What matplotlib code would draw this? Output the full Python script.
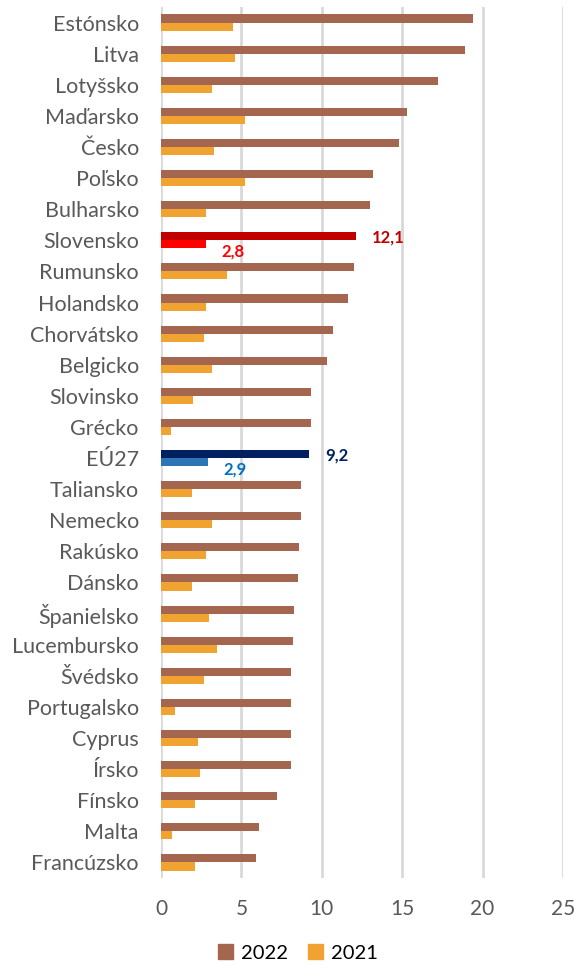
import matplotlib
matplotlib.use("Agg")
import matplotlib.pyplot as plt
import numpy as np

# data (inflation, %)
krajiny = ["Estónsko", "Litva", "Lotyšsko", "Maďarsko", "Česko", "Poľsko", "Bulharsko",
           "Slovensko", "Rumunsko", "Holandsko", "Chorvátsko", "Belgicko", "Slovinsko",
           "Grécko", "EÚ27", "Taliansko", "Nemecko", "Rakúsko", "Dánsko", "Španielsko",
           "Lucembursko", "Švédsko", "Portugalsko", "Cyprus", "Írsko", "Fínsko", "Malta",
           "Francúzsko"]
hodnoty_2022 = [19.4, 18.9, 17.2, 15.3, 14.8, 13.2, 13.0, 12.1, 12.0, 11.6, 10.7, 10.3, 9.3,
                9.3, 9.2, 8.7, 8.7, 8.6, 8.5, 8.3, 8.2, 8.1, 8.1, 8.1, 8.1, 7.2, 6.1, 5.9]
hodnoty_2021 = [4.5, 4.6, 3.2, 5.2, 3.3, 5.2, 2.8, 2.8, 4.1, 2.8, 2.7, 3.2, 2.0,
                0.6, 2.9, 1.9, 3.2, 2.8, 1.9, 3.0, 3.5, 2.7, 0.9, 2.3, 2.4, 2.1, 0.7, 2.1]
roky = ["2022", "2021"]
x_ticks = [0, 5, 10, 15, 20, 25]

c2022 = "#A5664F"
c2021 = "#F0A330"
zvyraznene = {"Slovensko": ("#C00000", "#FF0000"), "EÚ27": ("#002060", "#2E75B6")}
popisky = {"Slovensko": ("#C00000", "#FF0000"), "EÚ27": ("#002060", "#0070C0")}

plt.rcParams['font.family'] = ['Lato', 'DejaVu Sans']

fig = plt.figure(figsize=(5.74, 9.65), dpi=100)
ax = fig.add_axes([161/574, 1-878/965, (563-161)/574, (878-7)/965])

y = np.arange(len(krajiny))
h = 0.26
farby22 = [zvyraznene.get(k, (c2022, c2021))[0] for k in krajiny]
farby21 = [zvyraznene.get(k, (c2022, c2021))[1] for k in krajiny]

ax.barh(y - h/2, hodnoty_2022, height=h, color=farby22, zorder=3)
ax.barh(y + h/2, hodnoty_2021, height=h, color=farby21, zorder=3)

for k, (col22, col21) in popisky.items():
    i = krajiny.index(k)
    v22 = hodnoty_2022[i]
    v21 = hodnoty_2021[i]
    ax.annotate(f"{v22:.1f}".replace(".", ","), (v22, i - h/2), xytext=(12, -1),
                textcoords="offset points", ha="left", va="center",
                fontsize=12, fontweight="bold", color=col22)
    ax.annotate(f"{v21:.1f}".replace(".", ","), (v21, i + h/2), xytext=(11, -5),
                textcoords="offset points", ha="left", va="center",
                fontsize=12, fontweight="bold", color=col21)

ax.set_xlim(0, 25)
ax.set_ylim(len(krajiny) - 0.5, -0.5)
ax.set_xticks(x_ticks)
ax.set_yticks(y)
ax.set_yticklabels(krajiny)
ax.tick_params(axis="both", length=0, labelsize=15, colors="#595959")
ax.tick_params(axis="y", labelsize=15.5, pad=16)
ax.tick_params(axis="x", pad=15)
ax.grid(axis="x", color="#D9D9D9", linewidth=2, zorder=0)
for s in ax.spines.values():
    s.set_visible(False)

handles = [plt.Rectangle((0, 0), 1, 1, color=c2022), plt.Rectangle((0, 0), 1, 1, color=c2021)]
fig.legend(handles, roky, loc="center", bbox_to_anchor=(298/574, 1-953/965), ncol=2,
           frameon=False, fontsize=14.5, handlelength=0.75, handleheight=0.75,
           handletextpad=0.4, columnspacing=1.0)

fig.savefig("out.png", dpi=100)
